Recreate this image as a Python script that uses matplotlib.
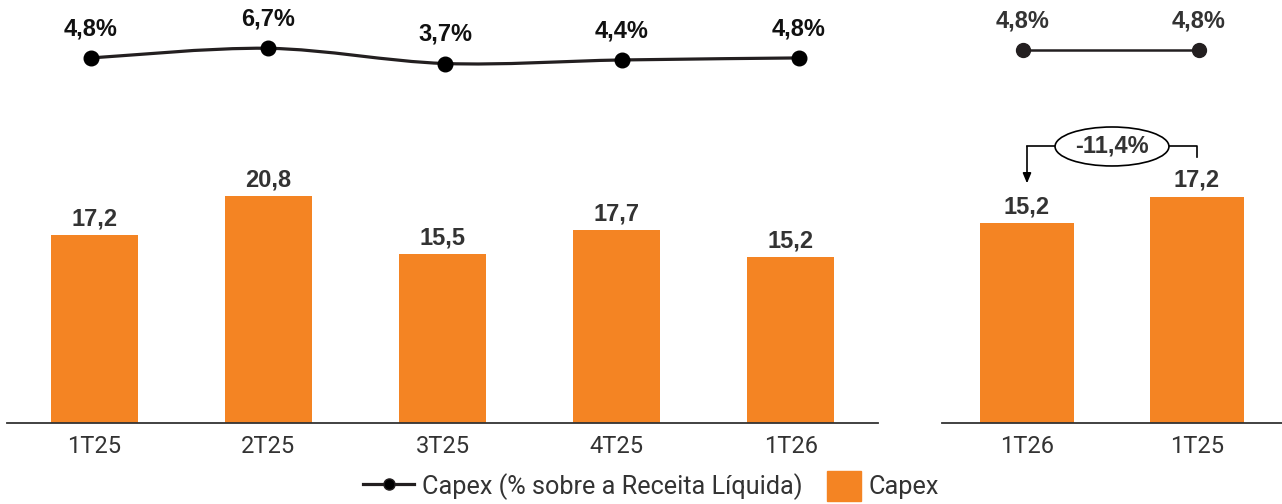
import matplotlib.pyplot as plt
import numpy as np
from matplotlib.lines import Line2D
from matplotlib.patches import Ellipse, Patch, Rectangle
from matplotlib.path import Path
from matplotlib.patches import PathPatch
from matplotlib.legend_handler import HandlerPatch

# data
quarters = ["1T25", "2T25", "3T25", "4T25", "1T26"]
capex = [17.2, 20.8, 15.5, 17.7, 15.2]
capex_pct = [4.8, 6.7, 3.7, 4.4, 4.8]

cmp_labels = ["1T26", "1T25"]
cmp_capex = [15.2, 17.2]
cmp_pct = [4.8, 4.8]
cmp_var = "-11,4%"

ORANGE = "#F48423"
DARK = "#231F20"
GREY = "#333333"
W, H = 1282, 504

fig = plt.figure(figsize=(W / 100, H / 100), dpi=100)


def px_axes(left, top, right, bottom):
    return fig.add_axes([left / W, 1 - bottom / H, (right - left) / W, (bottom - top) / H])


def fmt(v):
    return ("%.1f" % v).replace(".", ",")


def smooth_path(xs, ys, k=6.0):
    # catmull-rom style bezier through the points
    pts = np.column_stack([xs, ys]).astype(float)
    p = np.vstack([pts[0], pts, pts[-1]])
    verts = [tuple(pts[0])]
    codes = [Path.MOVETO]
    for i in range(1, len(p) - 2):
        c1 = p[i] + (p[i + 1] - p[i - 1]) / k
        c2 = p[i + 1] - (p[i + 2] - p[i]) / k
        verts += [tuple(c1), tuple(c2), tuple(p[i + 1])]
        codes += [Path.CURVE4] * 3
    return Path(verts, codes)


bold = dict(family="Liberation Sans", fontweight="bold", fontsize=17)

# left panel
ax_bar = px_axes(7, 100, 878, 423)
ax_line = px_axes(2.5, 0, 887.5, 100)
# right panel
ax_bar2 = px_axes(942, 100, 1282, 423)
ax_line2 = px_axes(935, 0, 1287, 100)

x = np.arange(len(quarters))
x2 = np.arange(len(cmp_labels))

for ax, xs, vals, labels, width, top in [
    (ax_bar, x, capex, quarters, 0.5, 29.58),
    (ax_bar2, x2, cmp_capex, cmp_labels, 0.55, 24.53),
]:
    ax.bar(xs, vals, width=width, color=ORANGE)
    ax.set_xlim(-0.5, len(xs) - 0.5)
    ax.set_ylim(0, top)
    for s in ["top", "left", "right"]:
        ax.spines[s].set_visible(False)
    ax.spines["bottom"].set_color(GREY)
    ax.spines["bottom"].set_linewidth(1.3)
    ax.set_yticks([])
    ax.set_xticks(xs, labels)
    ax.tick_params(axis="x", length=0, pad=8.5, labelsize=17, labelcolor=GREY)
    for lab in ax.get_xticklabels():
        lab.set_family("Roboto")
    for xi, v in zip(xs, vals):
        ax.annotate(fmt(v), (xi, v), xytext=(0, 7), textcoords="offset points",
                    ha="center", va="baseline", color=GREY, **bold)

# line, left (smoothed)
ax_line.set_xlim(-0.5, len(x) - 0.5)
ax_line.set_ylim(-3.5, 16.23)
ax_line.add_patch(PathPatch(smooth_path(x, capex_pct), facecolor="none",
                            edgecolor=DARK, lw=2.3, transform=ax_line.transData))
ax_line.plot(x, capex_pct, ls="none", marker="o", ms=10.5, color="black")
for xi, v in zip(x, capex_pct):
    ax_line.annotate(fmt(v) + "%", (xi, v), xytext=(0, 16.5), textcoords="offset points",
                     ha="center", va="baseline", color="#111111", **bold)

# line, right
ax_line2.set_xlim(-0.5, len(x2) - 0.5)
ax_line2.set_ylim(-5.06, 14.66)
ax_line2.plot(x2, cmp_pct, color=DARK, lw=1.8, marker="o", ms=10)
for xi, v in zip(x2, cmp_pct):
    ax_line2.annotate(fmt(v) + "%", (xi, v), xytext=(0, 16.5), textcoords="offset points",
                      ha="center", va="baseline", color=GREY, **bold)

for ax in [ax_line, ax_line2]:
    ax.axis("off")

# variation bracket
y_br = max(cmp_capex) + 3.8
ax_bar2.plot([x2[0], x2[1], x2[1]], [y_br, y_br, cmp_capex[1] + 3.0], color="black", lw=1.2,
             clip_on=False)
ax_bar2.annotate("", xy=(x2[0], cmp_capex[0] + 3.0), xytext=(x2[0], y_br),
                 arrowprops=dict(arrowstyle="-|>,head_length=0.6,head_width=0.25",
                                 color="black", lw=1.2, shrinkA=0, shrinkB=0))
ax_bar2.add_patch(Ellipse(((x2[0] + x2[1]) / 2, y_br), 0.67, 2.96, facecolor="white",
                          edgecolor="black", lw=1.2, zorder=3))
ax_bar2.text((x2[0] + x2[1]) / 2, y_br, cmp_var, ha="center", va="center", color=GREY,
             zorder=4, **bold)


def square(legend, orig_handle, xdescent, ydescent, width, height, fontsize):
    side = 24.5
    return Rectangle((width - side - xdescent, -ydescent - 2), side, height + 4)


handles = [
    Line2D([], [], color=DARK, lw=2.3, marker="o", ms=8, markerfacecolor="black"),
    Patch(color=ORANGE),
]
fig.legend(handles, ["Capex (% sobre a Receita Líquida)", "Capex"], loc="center",
           bbox_to_anchor=(0.508, 0.034), ncol=2, frameon=False,
           prop=dict(family="Roboto", size=18.2), labelcolor=GREY,
           handlelength=2.0, handleheight=1.1, handletextpad=0.32,
           columnspacing=0.3, borderpad=0,
           handler_map={Patch: HandlerPatch(patch_func=square)})

fig.savefig("out.png", dpi=100)
